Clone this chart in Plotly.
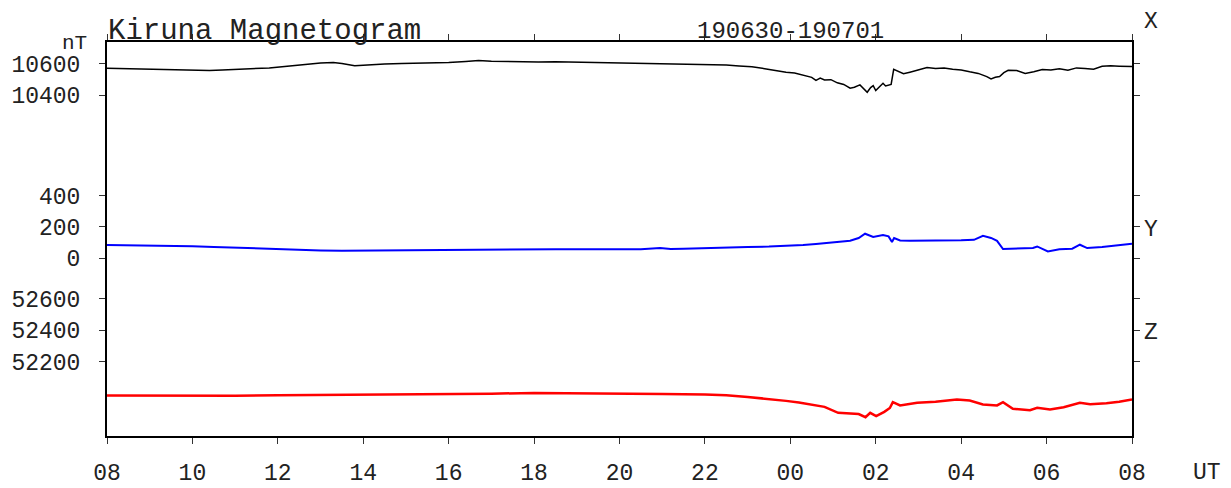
import plotly.graph_objects as go

# hours after 08 UT on 190630
x_hours = [0.0, 0.3, 0.6, 0.9, 1.2, 1.5, 1.8, 2.1, 2.4, 2.7, 2.9, 3.2, 3.5, 3.8, 4.1, 4.4, 4.7,
           5.0, 5.3, 5.5, 5.8, 6.0, 6.2, 6.5, 6.9, 7.3, 7.7, 8.0, 8.4, 8.7, 9.0, 9.3, 9.7, 10.1,
           10.5, 10.9, 11.3, 11.7, 12.1, 12.5, 12.9, 13.3, 13.7, 14.1, 14.5, 14.8, 15.1, 15.4,
           15.7, 15.9, 16.1, 16.3, 16.5, 16.6, 16.7, 16.8, 16.95, 17.1, 17.25, 17.4, 17.5, 17.63,
           17.72, 17.8, 17.88, 17.94, 18.0, 18.1, 18.17, 18.23, 18.3, 18.36, 18.42, 18.55, 18.65,
           18.8, 19.0, 19.2, 19.4, 19.6, 19.8, 20.0, 20.2, 20.4, 20.6, 20.7, 20.8, 20.9, 21.0,
           21.1, 21.3, 21.5, 21.7, 21.9, 22.1, 22.3, 22.5, 22.7, 22.9, 23.1, 23.3, 23.5, 23.7,
           23.9, 24.0]
x_nt = [10573, 10571, 10569, 10566, 10563, 10561, 10558, 10556, 10558, 10561, 10563, 10567,
        10570, 10575, 10583, 10592, 10600, 10606, 10609, 10603, 10588, 10592, 10597, 10600,
        10603, 10605, 10608, 10610, 10616, 10622, 10617, 10615, 10613, 10612, 10614, 10612,
        10611, 10609, 10608, 10606, 10604, 10602, 10600, 10597, 10593, 10587, 10582, 10570,
        10556, 10548, 10543, 10530, 10515, 10496, 10510, 10498, 10500, 10480, 10470, 10446,
        10452, 10467, 10440, 10420, 10450, 10462, 10431, 10455, 10477, 10460, 10466, 10470,
        10566, 10548, 10538, 10548, 10565, 10577, 10572, 10575, 10566, 10562, 10550, 10540,
        10520, 10505, 10515, 10520, 10545, 10560, 10558, 10540, 10550, 10565, 10562, 10570,
        10560, 10575, 10572, 10567, 10585, 10588, 10586, 10583, 10584]

y_hours = [0.0, 0.5, 1.0, 1.5, 2.0, 2.5, 3.0, 3.5, 4.0, 4.5, 5.0, 5.5, 6.0, 6.5, 7.0, 7.5, 8.0,
           8.5, 9.0, 9.5, 10.0, 10.5, 11.0, 11.5, 12.0, 12.5, 12.95, 13.2, 13.5, 14.0, 14.5, 15.0,
           15.5, 16.0, 16.3, 16.6, 16.9, 17.1, 17.4, 17.6, 17.75, 17.94, 18.17, 18.3, 18.38,
           18.43, 18.57, 18.8, 19.0, 19.5, 20.0, 20.3, 20.51, 20.7, 20.84, 20.98, 21.3, 21.68,
           21.78, 22.03, 22.3, 22.6, 22.78, 22.95, 23.3, 23.6, 23.95, 24.0]
y_nt = [85, 84, 82, 80, 77, 73, 68, 63, 58, 54, 51, 49, 50, 52, 55, 56, 57, 58, 60, 61, 60, 59,
        58, 57, 56, 58, 66, 60, 62, 64, 68, 72, 75, 80, 85, 92, 100, 105, 112, 130, 157, 136,
        149, 140, 104, 130, 114, 112, 112, 113, 115, 118, 144, 130, 112, 60, 62, 66, 76, 44, 58,
        62, 87, 66, 72, 80, 93, 93]

z_hours = [0.0, 1.0, 2.0, 3.0, 4.0, 5.0, 6.0, 6.5, 7.0, 8.0, 9.0, 10.0, 11.0, 12.0, 13.0, 14.0,
           14.5, 15.0, 15.5, 15.9, 16.2, 16.45, 16.63, 16.8, 17.12, 17.4, 17.6, 17.76, 17.87,
           18.01, 18.2, 18.33, 18.40, 18.57, 18.97, 19.4, 19.90, 20.2, 20.51, 20.84, 20.98,
           21.21, 21.61, 21.78, 22.08, 22.4, 22.78, 23.02, 23.4, 23.7, 24.0]
z_nt = [51984, 51983, 51982, 51983, 51985, 51987, 51990, 51988, 51990, 51993, 51996, 52000,
        51999, 51996, 51993, 51990, 51985, 51975, 51963, 51950, 51940, 51930, 51921, 51912,
        51874, 51870, 51866, 51846, 51874, 51853, 51880, 51905, 51942, 51921, 51938, 51945,
        51959, 51952, 51927, 51921, 51942, 51900, 51891, 51906, 51895, 51910, 51938, 51929,
        51935, 51945, 51959]

tick_hours = list(range(0, 25, 2))
tick_text = ["08", "10", "12", "14", "16", "18", "20", "22", "00", "02", "04", "06", "08"]
x_ticks = [10400, 10600]
y_ticks = [0, 200, 400]
z_ticks = [52200, 52400, 52600]

# panel layout: 0.1575 px per nT, plot area 394.5 px high
x_range = [8234.7, 10739.7]
y_range = [-1129.0, 1375.9]
z_range = [51726.7, 54231.7]

FONT = "Liberation Mono, Courier New, monospace"
L, R, T, B = 107, 1132, 42, 436.5
PAGE_OFF = 8  # page body margin


def px(x):
    return (x - L) / (R - L)


def py(y):
    return (B - y) / (B - T)


fig = go.Figure()
fig.add_trace(go.Scatter(x=x_hours, y=x_nt, mode="lines", line=dict(color="black", width=1.5),
                         yaxis="y"))
fig.add_trace(go.Scatter(x=y_hours, y=y_nt, mode="lines", line=dict(color="#0000ff", width=2),
                         yaxis="y2"))
fig.add_trace(go.Scatter(x=z_hours, y=z_nt, mode="lines", line=dict(color="#ff0000", width=2.5),
                         yaxis="y3"))

yax = dict(ticks="outside", ticklen=6, tickcolor="#333", showgrid=False, zeroline=False,
           showline=True, linecolor="black", linewidth=2, mirror="ticks", automargin=False,
           tickfont=dict(family=FONT, size=23, color="#222"), ticklabelstandoff=14)

fig.update_layout(
    width=1231 - PAGE_OFF, height=488 - PAGE_OFF,
    margin=dict(l=L - PAGE_OFF, r=1231 - R, t=T - PAGE_OFF, b=488 - B, autoexpand=False),
    paper_bgcolor="white", plot_bgcolor="white",
    showlegend=False,
    xaxis=dict(range=[0, 24], tickvals=tick_hours, ticktext=tick_text, ticks="outside",
               ticklen=6, tickcolor="#333", showgrid=False, zeroline=False, showline=True,
               linecolor="black", linewidth=2, mirror="ticks", automargin=False,
               tickfont=dict(family=FONT, size=23, color="#222"), ticklabelstandoff=8),
    yaxis=dict(range=x_range, tickvals=x_ticks, ticktext=[str(v) for v in x_ticks], **yax),
    yaxis2=dict(range=y_range, tickvals=y_ticks, ticktext=[str(v) for v in y_ticks],
                overlaying="y", **yax),
    yaxis3=dict(range=z_range, tickvals=z_ticks, ticktext=[str(v) for v in z_ticks],
                overlaying="y", **yax),
)

ann = [
    dict(text="Kiruna Magnetogram", x=px(L - 1), y=py(31), xanchor="left", size=29),
    dict(text="nT", x=px(89), y=py(44), xanchor="right", size=21),
    dict(text="190630-190701", x=px(790), y=py(31), xanchor="center", size=24),
    dict(text="X", x=px(1151), y=py(22), xanchor="center", size=23),
    dict(text="Y", x=px(1151), y=py(230), xanchor="center", size=23),
    dict(text="Z", x=px(1151), y=py(333), xanchor="center", size=23),
    dict(text="UT", x=px(1207), y=py(474), xanchor="center", size=23),
]
for a in ann:
    fig.add_annotation(text=a["text"], x=a["x"], y=a["y"], xref="paper", yref="paper",
                       xanchor=a["xanchor"], yanchor="middle", showarrow=False,
                       font=dict(family=FONT, size=a["size"], color="#222"))

fig.write_html("out.html")
